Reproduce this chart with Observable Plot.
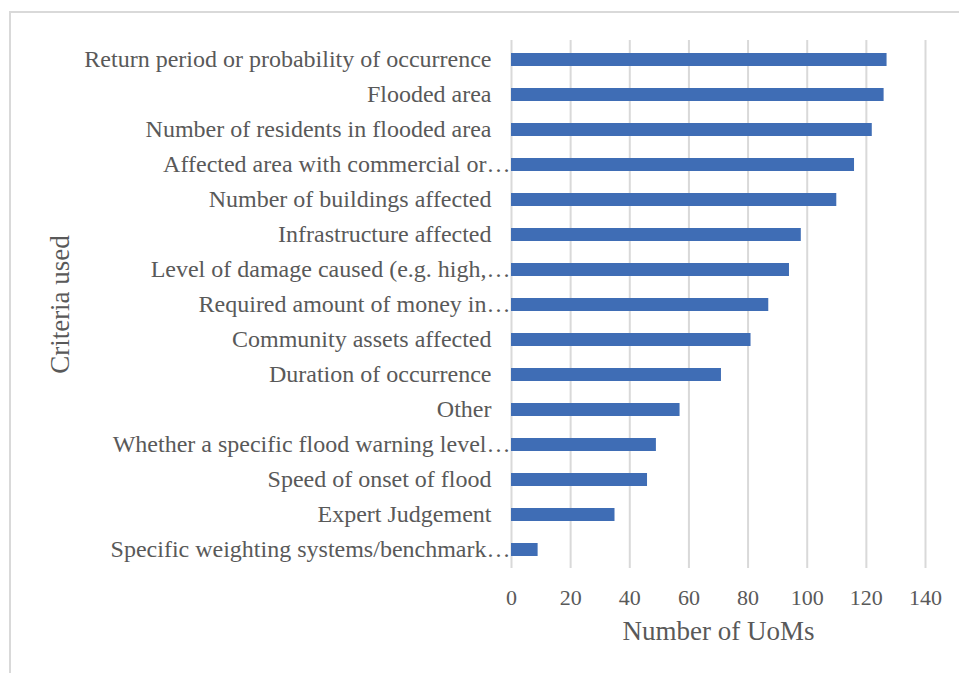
<!DOCTYPE html>
<html>
<head>
<meta charset="utf-8">
<script src="https://cdn.jsdelivr.net/npm/d3@7"></script>
<script src="https://cdn.jsdelivr.net/npm/@observablehq/plot@0.6"></script>
<style>
  html, body { margin: 0; padding: 0; background: #fff; }
  #wrap { position: relative; width: 959px; height: 673px; overflow: hidden; }
  #frame { position: absolute; left: 9px; top: 11px; width: 980px; height: 700px;
           border-top: 2px solid #d9d9d9; border-left: 2px solid #d9d9d9; }
  #chart { position: absolute; left: 0; top: 0; }
</style>
</head>
<body>
<div id="wrap"><div id="frame"></div><div id="chart"></div></div>
<script>
const categories = [
  "Return period or probability of occurrence",
  "Flooded area",
  "Number of residents in flooded area",
  "Affected area with commercial or…",
  "Number of buildings affected",
  "Infrastructure affected",
  "Level of damage caused (e.g. high,…",
  "Required amount of money in…",
  "Community assets affected",
  "Duration of occurrence",
  "Other",
  "Whether a specific flood warning level…",
  "Speed of onset of flood",
  "Expert Judgement",
  "Specific weighting systems/benchmark…"
];
const values = [127, 126, 122, 116, 110, 98, 94, 87, 81, 71, 57, 49, 46, 35, 9];
const xTicks = [0, 20, 40, 60, 80, 100, 120, 140];
const xTitle = "Number of UoMs";
const yTitle = "Criteria used";

const data = categories.map((c, i) => ({category: c, value: values[i]}));
const fullLabels = categories.filter(c => !c.endsWith("…"));
const truncLabels = categories.filter(c => c.endsWith("…"));

const chart = Plot.plot({
  width: 959,
  height: 673,
  marginLeft: 511,
  marginRight: 34,
  marginTop: 40,
  marginBottom: 105,
  style: {fontFamily: "'Liberation Serif', 'Times New Roman', serif", fontSize: "24px", color: "#595959", background: "transparent"},
  x: {domain: [0, 140], ticks: xTicks},
  y: {domain: categories, paddingInner: 0.64, paddingOuter: 0.32},
  marks: [
    Plot.gridX(xTicks, {stroke: "#d9d9d9", strokeOpacity: 1, strokeWidth: 2}),
    Plot.barX(data, {x: "value", y: "category", fill: "#3f6db5"}),
    Plot.axisX(xTicks, {tickSize: 0, tickPadding: 21, label: null, fill: "#595959", fontSize: 22}),
    Plot.axisY(fullLabels, {tickSize: 0, tickPadding: 20, label: null, fill: "#595959", fontSize: 24, dy: -1}),
    Plot.axisY(truncLabels, {tickSize: 0, tickPadding: 1, label: null, fill: "#595959", fontSize: 24, dy: -1}),
    Plot.text([xTitle], {frameAnchor: "bottom", dy: 71, fontSize: 27, fill: "#595959"}),
    Plot.text([yTitle], {frameAnchor: "left", dx: -451, rotate: -90, textAnchor: "middle", fontSize: 27, fill: "#595959"})
  ]
});
document.getElementById("chart").appendChild(chart);
</script>
</body>
</html>
